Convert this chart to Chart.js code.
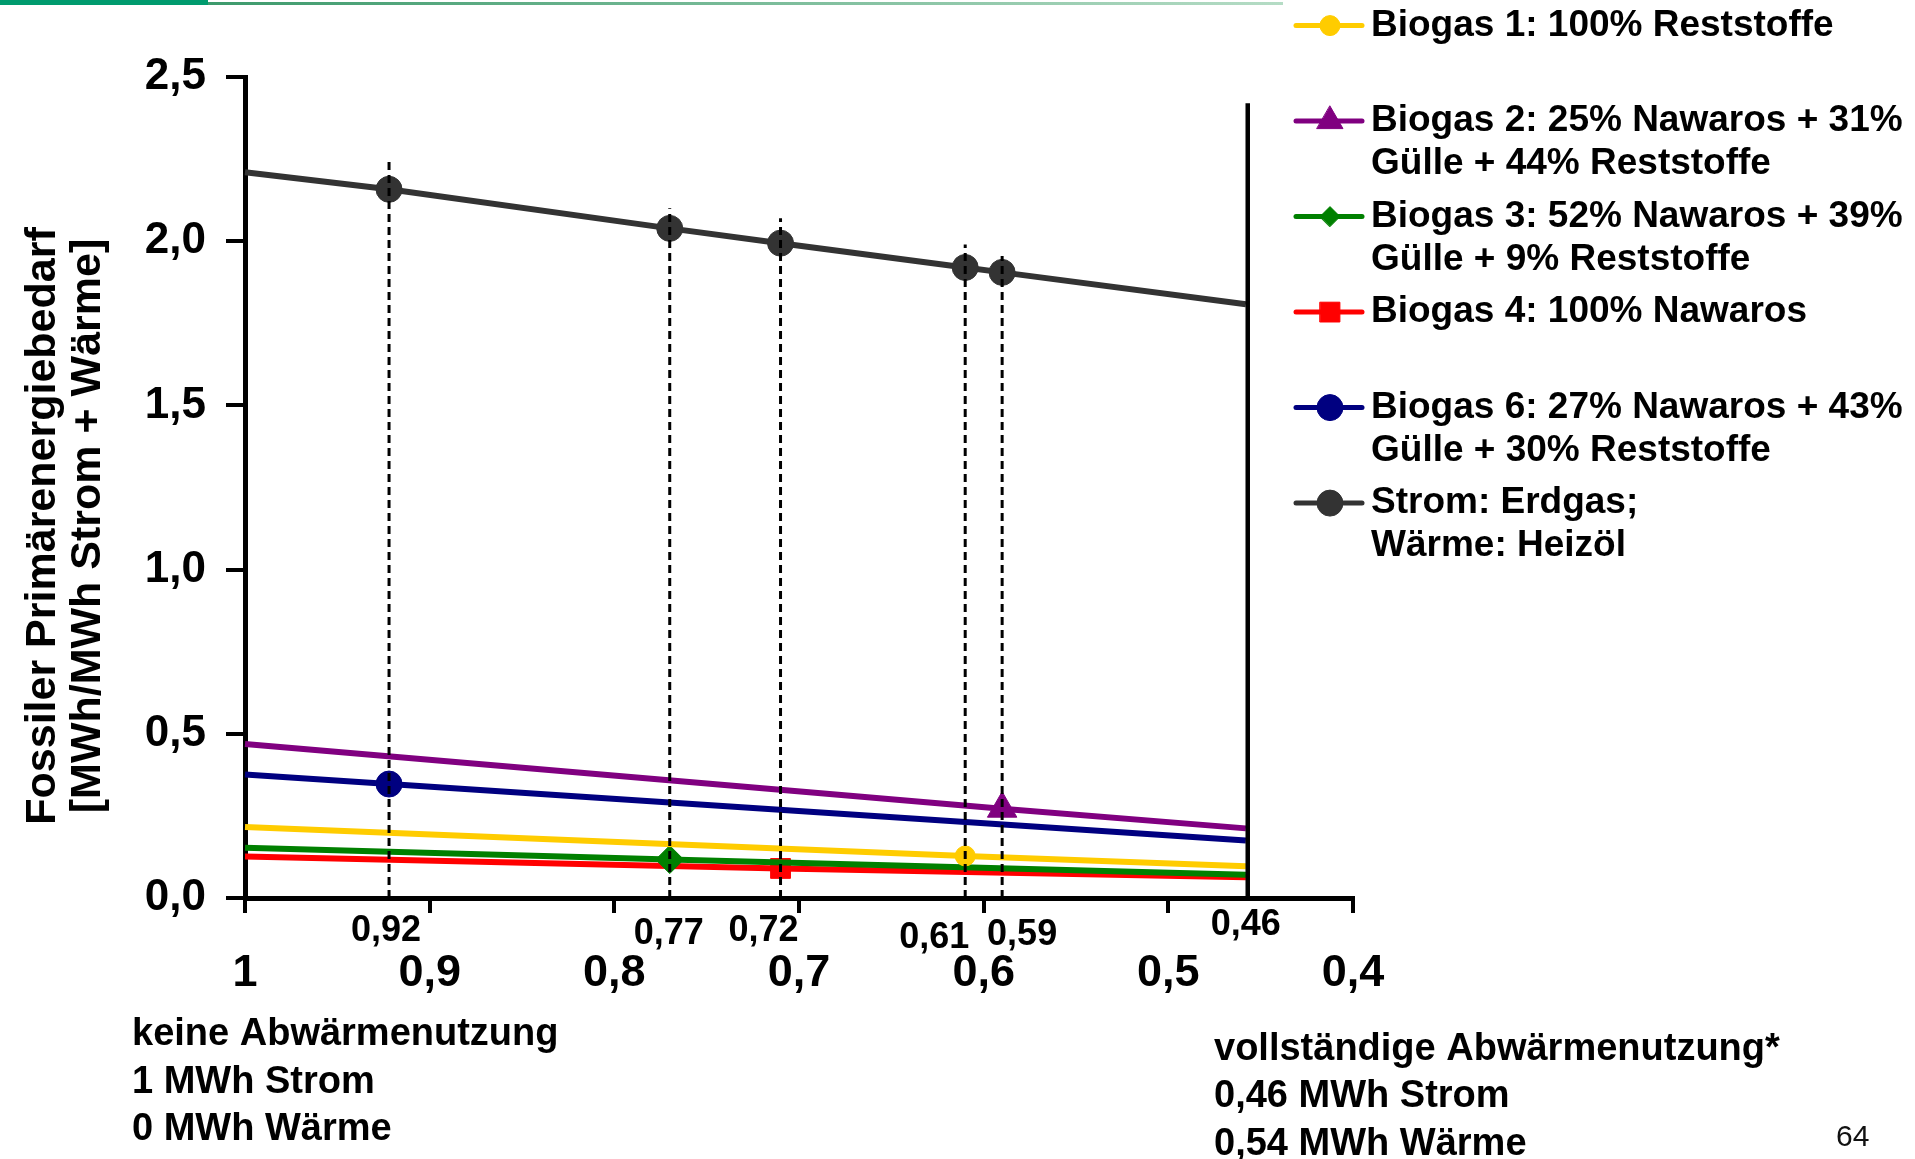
<!DOCTYPE html>
<html><head><meta charset="utf-8">
<script src="https://cdn.jsdelivr.net/npm/chart.js@4.4.1/dist/chart.umd.min.js"></script>
<style>html,body{margin:0;padding:0;background:#fff;overflow:hidden}canvas{display:block}</style>
</head><body>
<canvas id="c" width="1915" height="1159"></canvas>
<script>
// ---------- data ----------
const xTickValues = [1, 0.9, 0.8, 0.7, 0.6, 0.5, 0.4];
const xTickLabels = ['1', '0,9', '0,8', '0,7', '0,6', '0,5', '0,4'];
const yTickValues = [0, 0.5, 1, 1.5, 2, 2.5];
const yTickLabels = ['0,0', '0,5', '1,0', '1,5', '2,0', '2,5'];

const seriesLabels = [
  ['Biogas 1: 100% Reststoffe'],
  ['Biogas 2: 25% Nawaros + 31%', 'Gülle + 44% Reststoffe'],
  ['Biogas 3: 52% Nawaros + 39%', 'Gülle + 9% Reststoffe'],
  ['Biogas 4: 100% Nawaros'],
  ['Biogas 6: 27% Nawaros + 43%', 'Gülle + 30% Reststoffe'],
  ['Strom: Erdgas;', 'Wärme: Heizöl']
];

const biogas1X = [1, 0.61, 0.458];
const biogas1Y = [0.216, 0.128, 0.097];
const biogas2X = [1, 0.59, 0.458];
const biogas2Y = [0.469, 0.272, 0.212];
const biogas3X = [1, 0.77, 0.458];
const biogas3Y = [0.153, 0.117, 0.071];
const biogas4X = [1, 0.71, 0.458];
const biogas4Y = [0.126, 0.09, 0.063];
const biogas6X = [1, 0.922, 0.458];
const biogas6Y = [0.376, 0.347, 0.175];
const stromX = [1, 0.922, 0.77, 0.71, 0.61, 0.59, 0.458];
const stromY = [2.21, 2.158, 2.039, 1.994, 1.92, 1.905, 1.808];

// marker shown on which points (1 = marker)
const biogas1Marks = [0, 1, 0];
const biogas2Marks = [0, 1, 0];
const biogas3Marks = [0, 1, 0];
const biogas4Marks = [0, 1, 0];
const biogas6Marks = [0, 1, 0];
const stromMarks = [0, 1, 1, 1, 1, 1, 0];

// dashed guide lines
const guideX = [0.922, 0.77, 0.71, 0.61, 0.59];
const guideTop = [2.25, 2.10, 2.07, 1.99, 1.955];
const guideLabels = ['0,92', '0,77', '0,72', '0,61', '0,59'];
// full heat use line
const fullUseX = 0.457;
const fullUseTop = 2.42;
const fullUseLabel = '0,46';

const yTitle = ['Fossiler Primärenergiebedarf', '[MWh/MWh Strom + Wärme]'];
const leftNote = ['keine Abwärmenutzung', '1 MWh Strom', '0 MWh Wärme'];
const rightNote = ['vollständige Abwärmenutzung*', '0,46 MWh Strom', '0,54 MWh Wärme'];
const pageNumber = '64';

// ---------- styles ----------
const FONT = "'Liberation Sans', Arial, Helvetica, sans-serif";
const seriesStyle = [
  { color: '#FFCC00', pointStyle: 'circle',   r: 10, lr: 10 },
  { color: '#800080', pointStyle: 'triangle', r: 17, lr: 15 },
  { color: '#008000', pointStyle: 'rectRot',  r: 14, lr: 10 },
  { color: '#FF0000', pointStyle: 'rect',     r: 14, lr: 14 },
  { color: '#000080', pointStyle: 'circle',   r: 13, lr: 13 },
  { color: '#333333', pointStyle: 'circle',   r: 13, lr: 13 }
];
const guideLabelDx = [-3, -1, -17, -31, 20];
const guideLabelY = [931, 934, 931, 938, 935];

const seriesX = [biogas1X, biogas2X, biogas3X, biogas4X, biogas6X, stromX];
const seriesY = [biogas1Y, biogas2Y, biogas3Y, biogas4Y, biogas6Y, stromY];
const seriesMarks = [biogas1Marks, biogas2Marks, biogas3Marks, biogas4Marks, biogas6Marks, stromMarks];

const datasets = [];
seriesLabels.forEach((lab, i) => {
  const st = seriesStyle[i];
  datasets.push({
    label: lab.join(' '),
    data: seriesX[i].map((x, k) => ({ x: x, y: seriesY[i][k] })),
    borderColor: st.color,
    backgroundColor: st.color,
    borderWidth: 6,
    pointStyle: st.pointStyle,
    pointRadius: seriesMarks[i].map(m => m ? st.r : 0),
    pointBorderWidth: 1,
    pointBorderColor: st.color,
    pointBackgroundColor: st.color,
    tension: 0,
    clip: false,
    order: 2
  });
});
guideX.forEach((gx, i) => {
  datasets.push({
    label: 'guide' + i,
    data: [{ x: gx, y: 0 }, { x: gx, y: guideTop[i] }],
    borderColor: '#000',
    borderWidth: 3,
    borderDash: [8, 5],
    pointRadius: 0,
    clip: false,
    order: 1
  });
});
datasets.push({
  label: 'fulluse',
  data: [{ x: fullUseX, y: 0 }, { x: fullUseX, y: fullUseTop }],
  borderColor: '#000',
  borderWidth: 4.5,
  pointRadius: 0,
  clip: false,
  order: 1
});

const annot = {
  id: 'annot',
  afterDraw(chart) {
    const ctx = chart.ctx;
    const xs = chart.scales.x;
    ctx.save();
    // top decoration
    ctx.fillStyle = '#009b6e';
    ctx.fillRect(0, 0, 208, 5);
    const g = ctx.createLinearGradient(208, 0, 1283, 0);
    g.addColorStop(0, '#3d9a6c');
    g.addColorStop(1, '#b5dcc5');
    ctx.fillStyle = g;
    ctx.fillRect(208, 2, 1075, 3);

    ctx.fillStyle = '#000';
    ctx.textBaseline = 'middle';
    // guide labels
    ctx.font = 'bold 36px ' + FONT;
    ctx.textAlign = 'center';
    guideX.forEach((gx, i) => {
      ctx.fillText(guideLabels[i], xs.getPixelForValue(gx) + guideLabelDx[i], guideLabelY[i]);
    });
    ctx.fillText(fullUseLabel, xs.getPixelForValue(fullUseX) - 2, 925);

    // y title
    ctx.save();
    ctx.translate(43, 526);
    ctx.rotate(-Math.PI / 2);
    ctx.font = 'bold 43px ' + FONT;
    ctx.textAlign = 'center';
    ctx.fillText(yTitle[0], 0, 0);
    ctx.fillText(yTitle[1], 0, 45);
    ctx.restore();

    // notes
    ctx.font = 'bold 38px ' + FONT;
    ctx.textAlign = 'left';
    const ly = [1035, 1083, 1130];
    leftNote.forEach((t, i) => ctx.fillText(t, 132, ly[i]));
    const ry = [1050, 1097, 1145];
    rightNote.forEach((t, i) => ctx.fillText(t, 1214, ry[i]));
    ctx.font = '30px ' + FONT;
    ctx.fillStyle = '#111';
    ctx.fillText(pageNumber, 1836, 1138);

    // legend
    ctx.fillStyle = '#000';
    ctx.font = 'bold 37px ' + FONT;
    seriesLabels.forEach((lines, i) => {
      const st = seriesStyle[i];
      const cy = 25.6 + i * 95.5;
      ctx.strokeStyle = st.color;
      ctx.lineWidth = 5;
      ctx.lineCap = 'round';
      ctx.beginPath(); ctx.moveTo(1296, cy); ctx.lineTo(1362, cy); ctx.stroke();
      ctx.fillStyle = st.color;
      ctx.lineWidth = 1;
      Chart.helpers.drawPoint(ctx, { pointStyle: st.pointStyle, radius: st.lr, rotation: 0, borderWidth: 1 }, 1330, cy);
      ctx.fillStyle = '#000';
      lines.forEach((t, k) => ctx.fillText(t, 1371, cy + k * 42.7));
    });
    ctx.restore();
  }
};

new Chart(document.getElementById('c'), {
  type: 'line',
  data: { datasets: datasets },
  options: {
    responsive: false,
    animation: false,
    events: [],
    layout: { padding: { left: 0, top: 77, right: 562, bottom: 161 } },
    plugins: { legend: { display: false }, tooltip: { enabled: false } },
    scales: {
      x: {
        type: 'linear', reverse: true, min: 0.4, max: 1,
        afterBuildTicks: s => { s.ticks = xTickValues.map(v => ({ value: v })); },
        afterFit: s => { s.height = 100; },
        grid: { drawOnChartArea: false, drawTicks: true, tickLength: 15, lineWidth: 4, color: '#000' },
        border: { display: true, width: 5, color: '#000' },
        ticks: {
          autoSkip: false, maxRotation: 0, padding: 34, color: '#000',
          font: { family: FONT, size: 45, weight: 'bold' },
          callback: (v, i) => xTickLabels[i]
        }
      },
      y: {
        type: 'linear', min: 0, max: 2.5,
        afterBuildTicks: s => { s.ticks = yTickValues.map(v => ({ value: v })); },
        afterFit: s => { s.width = 245; },
        grid: { drawOnChartArea: false, drawTicks: true, tickLength: 19, lineWidth: 4, color: '#000' },
        border: { display: true, width: 5, color: '#000' },
        ticks: {
          autoSkip: false, padding: 20, color: '#000',
          font: { family: FONT, size: 44, weight: 'bold' },
          callback: (v, i) => yTickLabels[i]
        }
      }
    }
  },
  plugins: [annot]
});
</script>
</body></html>
